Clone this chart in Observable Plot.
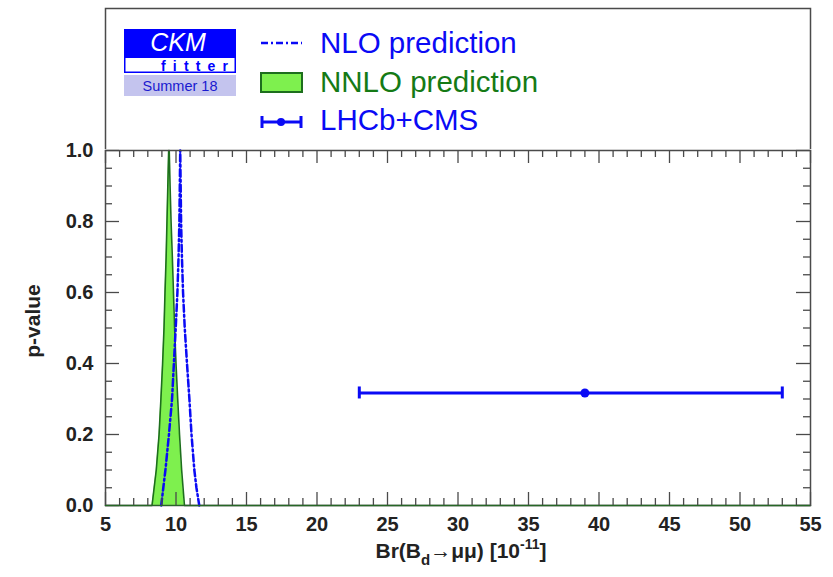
<!DOCTYPE html>
<html>
<head>
<meta charset="utf-8">
<script src="https://cdn.jsdelivr.net/npm/d3@7"></script>
<script src="https://cdn.jsdelivr.net/npm/@observablehq/plot@0.6"></script>
<style>
  html, body { margin: 0; padding: 0; background: white; }
  #wrap { width: 833px; height: 577px; position: relative; }
  svg { display: block; }
</style>
</head>
<body>
<div id="wrap"></div>
<script>
// ---------- data ----------
// NNLO prediction: p-value curve (x in 10^-11)
const nnloX = [5, 8.3, 8.45, 8.6, 8.8, 8.93, 9.05, 9.15, 9.22, 9.3, 9.36, 9.42, 9.48, 9.52, 9.58, 9.65, 9.74, 9.82, 9.9, 10.0, 10.12, 10.25, 10.4, 10.5, 10.6, 55];
const nnloP = [0, 0, 0.05, 0.1, 0.2, 0.3, 0.4, 0.5, 0.6, 0.7, 0.8, 0.9, 1.0, 1.0, 0.9, 0.8, 0.7, 0.6, 0.5, 0.4, 0.3, 0.2, 0.1, 0.05, 0, 0];
// NLO prediction: p-value curve
const nloX = [8.95, 9.1, 9.25, 9.5, 9.72, 9.85, 9.98, 10.1, 10.18, 10.24, 10.27, 10.3, 10.33, 10.36, 10.42, 10.5, 10.62, 10.78, 10.95, 11.1, 11.3, 11.45, 11.65];
const nloP = [0, 0.05, 0.1, 0.2, 0.3, 0.4, 0.5, 0.6, 0.7, 0.8, 0.9, 1.0, 0.9, 0.8, 0.7, 0.6, 0.5, 0.4, 0.3, 0.2, 0.1, 0.05, 0];
// LHCb+CMS measurement
const measCentral = [39];
const measLow = [23];
const measHigh = [53];
const measP = [0.317];
// axis ticks
const xTicks = [5, 10, 15, 20, 25, 30, 35, 40, 45, 50, 55];
const yTicks = [0, 0.2, 0.4, 0.6, 0.8, 1.0];
const xMinor = d3.range(5, 56, 1).filter(v => v % 5 !== 0);
const yMinor = d3.range(0, 21, 1).map(i => i / 20).filter(v => Math.round(v * 20) % 4 !== 0);

// ---------- build tables ----------
const nnlo = nnloX.map((x, i) => ({x, p: nnloP[i]}));
const nlo = nloX.map((x, i) => ({x, p: nloP[i]}));
const meas = measCentral.map((c, i) => ({c, lo: measLow[i], hi: measHigh[i], p: measP[i]}));
const caps = meas.flatMap(d => [{x: d.lo, p: d.p}, {x: d.hi, p: d.p}]);

const BLUE = "#0a0af5";
const GREEN_FILL = "#7ef04e";
const GREEN_LINE = "#1d6e1d";
const GREEN_TEXT = "#157a15";
const FRAME = "#4a4a4a";
const FONT = "'Liberation Sans', Arial, Helvetica, sans-serif";

// ---------- legend (above the plot) ----------
const W = 833, LH = 149;
const leg = d3.select("#wrap").append("svg").attr("width", W).attr("height", LH)
  .style("font-family", FONT);
leg.append("rect").attr("x", 105.5).attr("y", 8.5).attr("width", 705).attr("height", 150)
  .attr("fill", "none").attr("stroke", FRAME).attr("stroke-width", 1.5);
// CKMfitter logo
const logo = leg.append("g").attr("font-family", FONT);
logo.append("rect").attr("x", 124).attr("y", 29).attr("width", 112).attr("height", 44).attr("fill", "#0000ff");
logo.append("rect").attr("x", 125.5).attr("y", 58).attr("width", 109).attr("height", 13.5).attr("fill", "white");
logo.append("text").attr("x", 178).attr("y", 51).attr("text-anchor", "middle").attr("font-family", FONT)
  .attr("fill", "white").attr("font-style", "italic").attr("font-size", 25).text("CKM");
logo.append("text").attr("x", 161).attr("y", 70.5).attr("fill", "#0000ff").attr("font-family", FONT)
  .attr("font-size", 14).attr("font-weight", "bold").attr("textLength", 67).attr("lengthAdjust", "spacing").text("fitter");
logo.append("rect").attr("x", 124).attr("y", 75).attr("width", 112).attr("height", 21).attr("fill", "#c4c4ee");
logo.append("text").attr("x", 180).attr("y", 91).attr("text-anchor", "middle").attr("font-family", FONT)
  .attr("fill", "#1a1ad0").attr("font-size", 14.5).text("Summer 18");
// legend entries
leg.append("line").attr("x1", 261).attr("x2", 302).attr("y1", 43).attr("y2", 43)
  .attr("stroke", BLUE).attr("stroke-width", 2.5).attr("stroke-dasharray", "7,3,2,3");
leg.append("text").attr("x", 320).attr("y", 53).attr("fill", BLUE).attr("font-size", 29.5).text("NLO prediction");
leg.append("rect").attr("x", 261).attr("y", 73).attr("width", 41).attr("height", 19)
  .attr("fill", GREEN_FILL).attr("stroke", GREEN_LINE).attr("stroke-width", 2);
leg.append("text").attr("x", 320).attr("y", 92).attr("fill", GREEN_TEXT).attr("font-size", 29.5).text("NNLO prediction");
leg.append("line").attr("x1", 261).attr("x2", 302).attr("y1", 122).attr("y2", 122)
  .attr("stroke", BLUE).attr("stroke-width", 3);
leg.append("line").attr("x1", 262).attr("x2", 262).attr("y1", 116).attr("y2", 128).attr("stroke", BLUE).attr("stroke-width", 3);
leg.append("line").attr("x1", 301).attr("x2", 301).attr("y1", 116).attr("y2", 128).attr("stroke", BLUE).attr("stroke-width", 3);
leg.append("circle").attr("cx", 281).attr("cy", 122).attr("r", 4).attr("fill", BLUE);
leg.append("text").attr("x", 320).attr("y", 130).attr("fill", BLUE).attr("font-size", 29.5).text("LHCb+CMS");

// ---------- plot ----------
const PH = 577 - LH;
const mL = 105, mR = 23, mT = 1, mB = 72;
const innerW = W - mL - mR, innerH = PH - mT - mB;
const majX = 13, minX = 7, majY = 14, minY = 7;

const chart = Plot.plot({
  width: W, height: PH,
  marginLeft: mL, marginRight: mR, marginTop: mT, marginBottom: mB,
  x: {domain: [5, 55]},
  y: {domain: [0, 1]},
  style: {fontFamily: FONT, background: "white", overflow: "visible"},
  marks: [
    Plot.areaY(nnlo, {x: "x", y: "p", fill: GREEN_FILL}),
    Plot.line(nnlo, {x: "x", y: "p", stroke: GREEN_LINE, strokeWidth: 1.6}),
    Plot.line(nlo, {x: "x", y: "p", stroke: BLUE, strokeWidth: 2.5, strokeDasharray: "7,3,2,3"}),
    Plot.ruleY(meas, {x1: "lo", x2: "hi", y: "p", stroke: BLUE, strokeWidth: 3}),
    Plot.ruleX(caps, {x: "x", y1: "p", y2: "p", insetTop: -6, insetBottom: -6, stroke: BLUE, strokeWidth: 3}),
    Plot.dot(meas, {x: "c", y: "p", r: 4.5, fill: BLUE}),
    // inward ticks, bottom & top
    Plot.tickX(xTicks, {x: d => d, insetTop: innerH - majX, stroke: FRAME, strokeWidth: 1.3}),
    Plot.tickX(xMinor, {x: d => d, insetTop: innerH - minX, stroke: FRAME, strokeWidth: 1.3}),
    Plot.tickX(xTicks, {x: d => d, insetBottom: innerH - majX, stroke: FRAME, strokeWidth: 1.3}),
    Plot.tickX(xMinor, {x: d => d, insetBottom: innerH - minX, stroke: FRAME, strokeWidth: 1.3}),
    // inward ticks, left & right
    Plot.tickY(yTicks, {y: d => d, insetRight: innerW - majY, stroke: FRAME, strokeWidth: 1.3}),
    Plot.tickY(yMinor, {y: d => d, insetRight: innerW - minY, stroke: FRAME, strokeWidth: 1.3}),
    Plot.tickY(yTicks, {y: d => d, insetLeft: innerW - majY, stroke: FRAME, strokeWidth: 1.3}),
    Plot.tickY(yMinor, {y: d => d, insetLeft: innerW - minY, stroke: FRAME, strokeWidth: 1.3}),
    Plot.axisX(xTicks, {tickSize: 0, tickPadding: 11, fontSize: 20, fontWeight: "bold", fill: "#222", label: null}),
    Plot.axisY(yTicks, {tickSize: 0, tickPadding: 12, fontSize: 20, fontWeight: "bold", fill: "#222",
      tickFormat: d3.format(".1f"), label: null}),
    Plot.frame({stroke: FRAME, strokeWidth: 1.5}),
    // bottom baseline of the NNLO curve drawn over the frame
    Plot.ruleY([0], {x1: 5, x2: 55, stroke: GREEN_LINE, strokeWidth: 1.2, strokeOpacity: 0.8})
  ]
});
d3.select("#wrap").append(() => chart);

// axis titles with sub/superscripts
const svg = d3.select(chart);
const xl = svg.append("text").attr("x", 461).attr("y", 558 - LH)
  .attr("text-anchor", "middle").attr("font-family", FONT)
  .attr("font-size", 21).attr("font-weight", "bold").attr("fill", "#222");
xl.append("tspan").text("Br(B");
xl.append("tspan").attr("dy", 7).attr("font-size", 15).text("d");
xl.append("tspan").attr("dy", -7).text("\u2192\u03bc\u03bc) [10");
xl.append("tspan").attr("dy", -9).attr("font-size", 14).text("-11");
xl.append("tspan").attr("dy", 9).text("]");
svg.append("text").attr("transform", `translate(40,${321 - LH}) rotate(-90)`)
  .attr("text-anchor", "middle").attr("font-family", FONT)
  .attr("font-size", 21).attr("font-weight", "bold").attr("fill", "#222").text("p-value");
</script>
</body>
</html>
